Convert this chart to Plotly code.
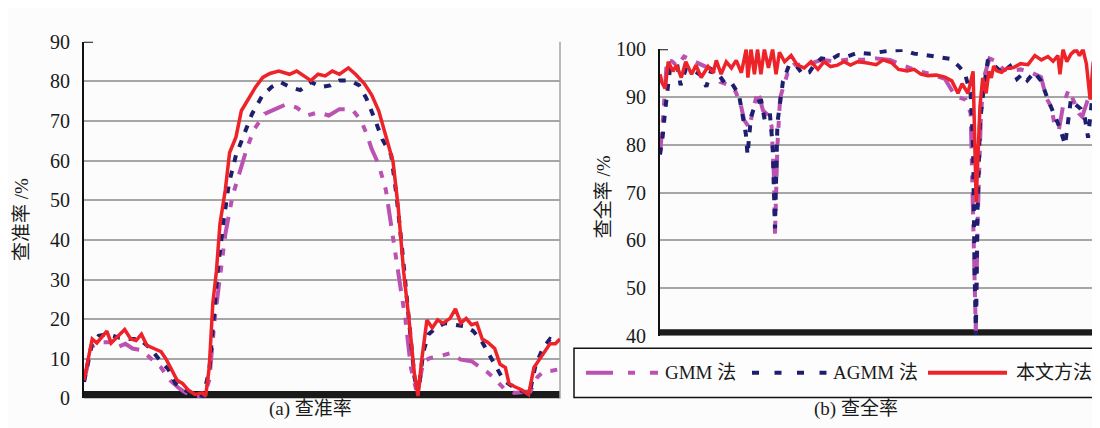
import plotly.graph_objects as go

# ---------------- data: (a) precision 查准率 ----------------
a_frames_ours = [0,23,36,51,64,76,96,114,131,146,161,176,196,216,231,246,261,276,291,311,
                 331,341,351,361,371,381,396,408,426,441,461,481,501,521,546,576,596,616,636,656,
                 676,696,716,741,761,786,806,826,846,866,881,896,911,926,936,946,961,976,991,1006,
                 1026,1041,1056,1071,1086,1101,1116,1131,1151,1166,1181,1191,1206,1226,1246,1261,1276,1291,1306,1321,1334]
a_ours = [4.6,15,14,15.8,17,14,15.8,17.4,15,14.6,16.2,13.4,12.6,11.8,9.8,7.4,4.6,3.8,2.2,1,
          1.4,0.6,7.8,24,32,44,52.6,62,66,72.6,75.8,78.6,81,82,82.6,81.8,82.6,81.4,80.2,81.8,
          81.4,82.6,81.8,83.4,81.8,79.4,76.6,72.6,66,59.8,47.8,31.8,19.8,6.2,0.6,9.4,19.8,17.8,19.8,19,
          20.2,22.6,19,20.2,18.6,19,15,14.2,12.6,8.6,7.8,3.8,3,2.2,1,7.8,9.8,11.8,13.8,13.8,15]

a_frames_agmm = [0,21,41,66,96,126,156,186,211,236,256,281,306,334,351,364,376,391,406,426,
                 446,471,501,526,551,576,606,636,666,691,716,746,771,791,816,836,861,876,891,906,
                 926,936,951,966,986,1011,1036,1066,1091,1116,1136,1156,1176,1201,1226,1248,1266,1286,1306,1326]
a_agmm = [4.2,13.4,15.8,16.2,15.4,15,15,12.6,9.8,7.4,3.8,2.2,1,0.6,7,19.8,33.4,44.6,54.2,61.4,
          66,71.8,76.6,78.6,79.8,78.6,77.8,79.8,78.6,79,80.2,80.2,79,75.8,70.2,65.4,61.4,51,38.2,23.8,
          5.4,1,11.8,16.2,17.8,19,18.6,18.2,17,14.2,11,7.8,4.6,3,1.8,1,8.6,12.6,15,14.2]

a_frames_gmm = [0,21,46,71,96,116,136,161,186,216,241,266,286,316,336,351,366,381,396,416,
                436,456,476,506,536,566,596,626,656,686,716,751,776,791,806,826,846,866,886,901,
                916,934,951,971,996,1026,1056,1086,1111,1131,1151,1176,1206,1236,1251,1271,1291,1311,1334]
a_gmm = [4.2,13,14.2,14.2,13,13.8,12.6,12.2,10.2,7.8,4.6,2.6,1.4,0.6,0.6,4.6,19.8,30.2,41.4,51,
         57.4,63,67.8,71.8,73,74.2,73.4,71.4,72.2,71.4,73,73,70.2,67,63,59,52.6,39.8,28.6,19.8,
         7.8,1,9.4,10.2,10.6,11.4,9.8,9.4,7.8,6.6,5,2.6,1.4,1.8,1.8,5.4,7,7,7.4]

# ---------------- data: (b) recall 查全率 ----------------
b_frames_ours = [0,6,15,24,38,48,62,75,92,105,
                 120,140,155,164,178,193,208,222,237,251,
                 256,265,275,284,294,304,316,328,338,348,
                 363,382,400,420,440,460,478,497,517,536,
                 555,575,600,630,650,675,695,720,740,760,
                 780,805,830,850,868,880,897,912,921,932,
                 940,950,958,965,972,981,995,1010,1030,1050,
                 1072,1092,1111,1130,1145,1159,1165,1174,1185,1197,
                 1212,1222,1232,1242,1253,1262,1270,1280,1290,1298]
b_ours = [94.8,93,91.8,97.4,95.4,96.7,94.1,97.4,94.8,96.7,
          94.1,96.4,95.1,97.7,94.8,97.4,96.1,97.7,95.1,100,
          94.1,100,94.8,100,94.8,100,96.1,100,94.8,99.4,
          97.4,98.7,96.7,96.1,97.4,95.8,97.4,96.4,96.7,97.4,
          96.7,97.4,97.2,96.8,97.8,97.2,95.8,95.5,95.8,94.8,
          94.5,94.6,94.2,93.4,90.8,92.8,90.8,95.4,68,88,
          94,90.8,95.4,94,96.5,95.5,95.2,96,96.2,97,
          96.8,98.7,97.8,98.5,97.5,98.7,94.8,100,97.4,99,
          100,98.7,100,97,89.5,97.4,92.8,97.4,95.5,94.8]

b_frames_agmm = [0,8,15,22,30,50,60,75,100,120,
                 135,150,170,190,210,230,240,250,255,265,
                 280,295,305,320,328,335,342,348,358,375,
                 395,415,435,450,470,495,520,545,575,610,
                 640,675,710,740,775,810,845,870,888,905,
                 912,916,920,925,932,942,955,975,995,1020,
                 1040,1055,1070,1090,1110,1130,1151,1165,1180,1197,
                 1210,1226,1238,1247,1260,1275,1285,1298]
b_agmm = [78,81.9,87.2,92.5,96.5,96.8,92.5,95.8,95.5,94.5,
          92.2,95.8,94.8,92.8,92.8,90.5,86.2,82.3,77.9,85.9,
          88.9,89.2,85.2,86.6,79.9,62.5,84.6,88.5,93.2,96.5,
          96.8,94.8,95.2,96.8,98.1,97.8,98.8,98.5,99.3,99.1,
          99.5,99.8,99.9,99.1,98.8,98.5,98,96.5,95,90.5,
          80,55,40.2,66.7,84.6,91.2,97.8,96.5,95.2,96.5,
          93.8,94.8,93.5,95.2,93.4,89.5,86,83.5,80,89.5,
          88.5,87.5,85.5,81.5,90.5,86.2,86,90.8]

b_frames_gmm = [0,10,20,35,50,70,90,110,130,150,175,200,220,235,245,260,275,285,300,315,
                325,332,335,342,350,360,375,390,430,470,510,550,590,630,670,710,750,790,830,860,
                890,905,915,920,925,935,945,960,980,1000,1020,1050,1080,1110,1125,1140,1150,1162,1175,1190,
                1205,1220,1230,1245,1260,1280,1298]
b_gmm = [78,86.6,97.8,97.5,96.5,98.5,97.8,97.2,96.5,95.8,93.2,92.5,91.2,88.5,85.2,83.6,88.5,91.2,87.2,86.2,
         83.9,73.3,61.4,79.9,89.9,92.5,95.8,96.8,96.8,97.8,97.5,97.9,97.8,98.1,97.8,96.6,95.5,94.8,93.8,90.2,
         89.5,86.6,60.1,40.9,63.4,86.6,94.5,98.1,97.5,95.8,95.5,95.8,95.2,94.2,89.9,87.9,83.9,83.2,88.5,91.5,
         89.2,86.6,85.9,89.2,91.2,90.9,91.2]

series_names = ["GMM 法", "AGMM 法", "本文方法"]
a_ticks = [0, 10, 20, 30, 40, 50, 60, 70, 80, 90]
b_ticks = [40, 50, 60, 70, 80, 90, 100]
captions = ["(a) 查准率", "(b) 查全率"]
ytitles = ["查准率 /%", "查全率 /%"]

# ---------------- styles ----------------
C_GMM = "#bb52b2"
C_AGMM = "#1e1e6e"
C_OURS = "#ee2229"
DASH_GMM = "22px,10px,7px,10px,7px,10px"
DASH_AGMM = "7px,9px"
FONT = "'Liberation Serif', 'Times New Roman', 'Noto Sans CJK SC', serif"
TXT = "#1a1a1a"
W, H = 1100, 428


def px_x(p):
    return p / W


def px_y(p):
    return (H - p) / H


fig = go.Figure()


def add_set(xs_g, g, xs_a, a, xs_o, o, xa, ya):
    fig.add_trace(go.Scatter(x=xs_g, y=g, mode="lines", name=series_names[0], xaxis=xa, yaxis=ya,
                             line=dict(color=C_GMM, width=4, dash=DASH_GMM), showlegend=False))
    fig.add_trace(go.Scatter(x=xs_a, y=a, mode="lines", name=series_names[1], xaxis=xa, yaxis=ya,
                             line=dict(color=C_AGMM, width=4, dash=DASH_AGMM), showlegend=False))
    fig.add_trace(go.Scatter(x=xs_o, y=o, mode="lines", name=series_names[2], xaxis=xa, yaxis=ya,
                             line=dict(color=C_OURS, width=3.5), showlegend=False))


add_set(a_frames_gmm, a_gmm, a_frames_agmm, a_agmm, a_frames_ours, a_ours, "x", "y")
add_set(b_frames_gmm, b_gmm, b_frames_agmm, b_agmm, b_frames_ours, b_ours, "x2", "y2")

axis_common_x = dict(showgrid=False, showticklabels=False, zeroline=False, showline=False, ticks="")
axis_common_y = dict(showgrid=True, gridcolor="#a6a6a6", gridwidth=1.5, zeroline=False,
                     showline=True, linecolor="#111111", linewidth=2, ticks="",
                     tickfont=dict(family=FONT, size=20, color=TXT), ticklabelstandoff=8)

fig.update_layout(
    width=W, height=H,
    margin=dict(l=0, r=0, t=0, b=0),
    paper_bgcolor="#fcfcfc", plot_bgcolor="#fcfcfc",
    showlegend=False,
    xaxis=dict(domain=[px_x(76), px_x(552)], range=[0, 1334], **axis_common_x),
    yaxis=dict(domain=[px_y(400), px_y(24)], range=[0, 90], tickvals=a_ticks, **axis_common_y),
    xaxis2=dict(domain=[px_x(652), 1.0], range=[0, 1305], anchor="y2", **axis_common_x),
    yaxis2=dict(domain=[px_y(334), px_y(32)], range=[40, 100], tickvals=b_ticks, anchor="x2", **axis_common_y),
)

ax_a = (px_x(76), px_x(552))
ax_b = (px_x(652), 1.0)

shapes = []
# black bands at the bottom of each plot
shapes.append(dict(type="rect", xref="paper", yref="y", x0=ax_a[0], x1=ax_a[1], y0=0, y1=1.9,
                   fillcolor="#1a1a1a", line=dict(width=0), layer="below"))
shapes.append(dict(type="rect", xref="paper", yref="y2", x0=ax_b[0], x1=ax_b[1], y0=40, y1=41.4,
                   fillcolor="#1a1a1a", line=dict(width=0), layer="below"))
# right border of plot (a)
shapes.append(dict(type="line", xref="paper", yref="paper", x0=ax_a[1], x1=ax_a[1], y0=px_y(400), y1=px_y(24),
                   line=dict(color="#a6a6a6", width=1.5), layer="below"))
# small top tick stubs
shapes.append(dict(type="line", xref="paper", yref="y", x0=ax_a[0], x1=ax_a[0] + px_x(9), y0=90, y1=90,
                   line=dict(color="#111111", width=2)))
shapes.append(dict(type="line", xref="paper", yref="y2", x0=ax_b[0], x1=ax_b[0] + px_x(8), y0=100, y1=100,
                   line=dict(color="#111111", width=2)))
# legend box and samples
shapes.append(dict(type="rect", xref="paper", yref="paper", x0=px_x(566), x1=px_x(1108),
                   y0=px_y(399), y1=px_y(347), fillcolor="#fdfdfd", line=dict(color="#111111", width=1.5)))
ly = px_y(373)
shapes.append(dict(type="line", xref="paper", yref="paper", x0=px_x(578), x1=px_x(650), y0=ly, y1=ly,
                   line=dict(color=C_GMM, width=4, dash="27px,15px,7px,15px,8px")))
shapes.append(dict(type="line", xref="paper", yref="paper", x0=px_x(744), x1=px_x(819), y0=ly, y1=ly,
                   line=dict(color=C_AGMM, width=4, dash="7px,15.5px")))
shapes.append(dict(type="line", xref="paper", yref="paper", x0=px_x(920), x1=px_x(999), y0=ly, y1=ly,
                   line=dict(color=C_OURS, width=4)))
fig.update_layout(shapes=shapes)

ann = []
ann.append(dict(text=ytitles[0], xref="paper", yref="paper", x=px_x(13), y=px_y(212), showarrow=False,
                textangle=-90, font=dict(family=FONT, size=19, color=TXT), xanchor="center", yanchor="middle"))
ann.append(dict(text=ytitles[1], xref="paper", yref="paper", x=px_x(595), y=px_y(188), showarrow=False,
                textangle=-90, font=dict(family=FONT, size=19, color=TXT), xanchor="center", yanchor="middle"))
ann.append(dict(text=captions[0], xref="paper", yref="paper", x=px_x(302), y=px_y(411), showarrow=False,
                font=dict(family=FONT, size=19, color=TXT), xanchor="center", yanchor="middle"))
ann.append(dict(text=captions[1], xref="paper", yref="paper", x=px_x(848), y=px_y(411), showarrow=False,
                font=dict(family=FONT, size=19, color=TXT), xanchor="center", yanchor="middle"))
for txt, x0 in zip(series_names, [655, 823, 1006]):
    ann.append(dict(text=txt, xref="paper", yref="paper", x=px_x(x0), y=ly, showarrow=False,
                    font=dict(family=FONT, size=19, color=TXT), xanchor="left", yanchor="middle"))
fig.update_layout(annotations=ann)

fig.write_html("out.html")
